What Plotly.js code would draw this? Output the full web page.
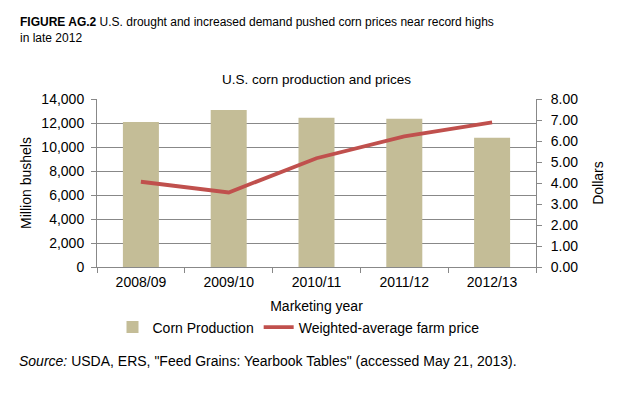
<!DOCTYPE html>
<html><head><meta charset="utf-8">
<script src="https://cdn.plot.ly/plotly-3.0.1.min.js"></script>
<style>body{margin:0;background:#fff}#c{width:622px;height:394px}</style>
</head><body><div id="c"></div>
<script>
const years = ["2008/09","2009/10","2010/11","2011/12","2012/13"];
const production = [12092, 13092, 12447, 12360, 10780];
const price = [4.06, 3.55, 5.18, 6.22, 6.89];
const leftTicks = [0,2000,4000,6000,8000,10000,12000,14000];
const rightTicks = [0,1,2,3,4,5,6,7,8];

const font = "Liberation Sans, Arial, sans-serif";
const data = [
  {type:"bar", x:years, y:production, name:"Corn Production",
   marker:{color:"#c4bd97"}, width:0.41},
  {type:"scatter", mode:"lines", x:years, y:price, yaxis:"y2",
   name:"Weighted-average farm price", line:{color:"#c0504d", width:3.8}}
];
const layout = {
  width:622, height:394,
  margin:{l:97, r:86, t:99, b:127},
  paper_bgcolor:"#fff", plot_bgcolor:"#fff",
  font:{family:font, size:14, color:"#000"},
  showlegend:true,
  legend:{orientation:"h", x:0.459, xanchor:"center", y:-0.36, yanchor:"middle",
          font:{size:14}, traceorder:"normal", itemwidth:30},
  xaxis:{type:"category", showline:true, linecolor:"#888", ticks:"outside",
         tickson:"boundaries", tickcolor:"#888", ticklen:5,
         ticklabelstandoff:2,
         title:{text:"Marketing year", font:{size:14}, standoff:12},
         tickfont:{size:14}},
  yaxis:{range:[0,14000], tickvals:leftTicks, tickformat:",d", showline:true,
         linecolor:"#888", ticks:"outside", tickcolor:"#888", ticklen:5,
         ticklabelstandoff:4,
         gridcolor:"#888", zeroline:false,
         title:{text:"Million bushels", font:{size:14}, standoff:6},
         tickfont:{size:14}},
  yaxis2:{overlaying:"y", side:"right", range:[0,8], tickvals:rightTicks,
          tickformat:".2f", showline:true, linecolor:"#888", ticks:"outside",
          tickcolor:"#888", ticklen:5, ticklabelstandoff:6, showgrid:false, zeroline:false,
          title:{text:"Dollars", font:{size:14}, standoff:15},
          tickfont:{size:14}},
  annotations:[
    {xref:"paper", yref:"paper", x:0.5, y:1, xanchor:"center", yanchor:"bottom",
     yshift:10, text:"U.S. corn production and prices", showarrow:false, font:{size:13.5}},
  ]
};
const plotW = 622-97-86, plotH = 394-99-127;
function px(x){return (x-97)/plotW;}
function py(y){return (267-y)/plotH;}
layout.annotations.push(
  {xref:"paper", yref:"paper", x:px(18), y:py(13), xanchor:"left", yanchor:"top",
   align:"left", showarrow:false, font:{size:12},
   text:"<b>FIGURE AG.2</b> U.S. drought and increased demand pushed corn prices near record highs<br>in late 2012"},
  {xref:"paper", yref:"paper", x:px(17), y:py(361), xanchor:"left", yanchor:"middle",
   align:"left", showarrow:false, font:{size:14},
   text:"<i>Source:</i> USDA, ERS, \"Feed Grains: Yearbook Tables\" (accessed May 21, 2013)."}
);
Plotly.newPlot("c", data, layout, {displayModeBar:false, staticPlot:true});
</script></body></html>
